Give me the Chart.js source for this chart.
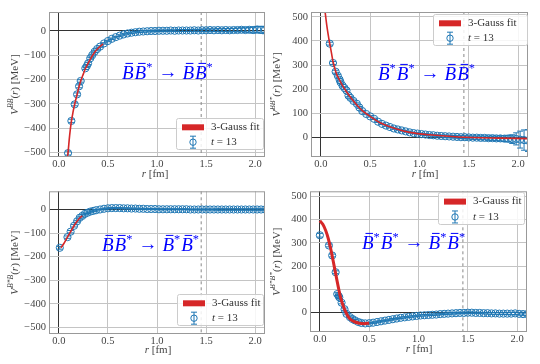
<!DOCTYPE html>
<html>
<head>
<meta charset="utf-8">
<script src="https://cdn.jsdelivr.net/npm/chart.js@4.4.1/dist/chart.umd.min.js"></script>
<style>
  body { margin: 0; background: #fff; }
  #wrap { position: relative; width: 540px; height: 364px; }
  canvas { position: absolute; }
</style>
</head>
<body>
<div id="wrap">
  <canvas id="c1" width="270" height="182" style="left:0;top:0"></canvas>
  <canvas id="c2" width="270" height="182" style="left:270px;top:0"></canvas>
  <canvas id="c3" width="270" height="182" style="left:0;top:182px"></canvas>
  <canvas id="c4" width="270" height="182" style="left:270px;top:182px"></canvas>
</div>
<script>
// ---- data ----
const xTicks = [0, 0.5, 1.0, 1.5, 2.0]
const yTicksNeg = [-500, -400, -300, -200, -100, 0]
const yTicksPos = [0, 100, 200, 300, 400, 500]
const cutoff = 1.45

// r grid of the dense lattice points (shared by all panels)
const rDense = [0.42, 0.46, 0.50, 0.54, 0.58, 0.62, 0.66, 0.70, 0.74, 0.78,
  0.82, 0.86, 0.90, 0.94, 0.98, 1.02, 1.06, 1.10, 1.14, 1.18,
  1.22, 1.26, 1.30, 1.34, 1.38, 1.42, 1.46, 1.50, 1.54, 1.58,
  1.62, 1.66, 1.70, 1.74, 1.78, 1.82, 1.86, 1.90, 1.94, 1.98,
  2.02, 2.06, 2.10]

// panel 1: BB* -> BB*
const r1Near = [0.094, 0.128, 0.162, 0.186, 0.206, 0.223, 0.27, 0.285, 0.298, 0.32, 0.34, 0.365, 0.39]
const v1Near = [-502, -370, -302, -261, -228, -206, -154, -145, -134, -113, -100, -86, -75]
const e1Near = [8, 7, 6, 6, 6, 5, 5, 5, 5, 4, 4, 4, 4]
const v1Dense = [-65, -52, -42, -33, -26, -20, -15, -11, -8, -6,
  -4, -3, -2, -1, -1, 0, 0, 0, 1, 0,
  1, 1, 1, 1, 2, 1, 2, 2, 3, 2,
  3, 2, 3, 2, 3, 3, 4, 3, 4, 3,
  5, 4, 3]
const e1Dense = [3, 3, 3, 3, 3, 3, 3, 3, 3, 3,
  3, 3, 3, 3, 3, 3, 3, 3, 3, 3,
  4, 4, 4, 4, 4, 4, 5, 5, 5, 5,
  6, 6, 6, 7, 7, 8, 8, 9, 10, 12,
  13, 14, 15]
const fit1R = [0.085, 0.094, 0.11, 0.128, 0.145, 0.162, 0.186, 0.206, 0.223, 0.25, 0.27, 0.30, 0.33, 0.36, 0.40, 0.45]
const fit1V = [-525, -500, -430, -372, -333, -300, -262, -229, -206, -177, -156, -132, -110, -91, -72, -54]

// panel 2: B*B* -> BB*
const r2Near = [0.09, 0.123, 0.15, 0.172, 0.19, 0.2, 0.22, 0.24, 0.26, 0.28, 0.30, 0.33, 0.365, 0.39]
const v2Near = [389, 309, 273, 256, 240, 229, 215, 205, 195, 174, 165, 152, 140, 125]
const e2Near = [6, 6, 6, 5, 5, 5, 5, 5, 5, 5, 4, 4, 4, 4]
const v2Dense = [110, 98, 88, 78, 66, 57, 50, 44, 38, 34,
  30, 26, 22, 19, 17, 15, 13, 11, 10, 8,
  7, 6, 5, 4, 3, 2, 2, 1, 0, 0,
  -1, -1, -2, -2, -3, -3, -4, -4, -6, -5,
  -8, -10, -12]
const e2Dense = [3, 3, 3, 3, 3, 3, 3, 3, 3, 3,
  3, 3, 3, 3, 3, 4, 4, 4, 4, 4,
  4, 5, 5, 5, 5, 6, 6, 6, 7, 7,
  8, 8, 9, 9, 10, 11, 12, 14, 18, 25,
  35, 42, 45]
const fit2R = [0.04, 0.06, 0.08, 0.09, 0.11, 0.123, 0.14, 0.16, 0.19, 0.22, 0.26, 0.30, 0.35, 0.42, 0.5, 0.6, 0.75, 0.9, 1.1, 1.4, 1.8, 2.1]
const fit2V = [530, 465, 412, 389, 345, 315, 288, 262, 238, 215, 190, 167, 142, 112, 88, 62, 38, 22, 12, 3, -2, -4]

// panel 3: BB* -> B*B*
const r3Near = [0.01, 0.088, 0.12, 0.155, 0.186, 0.213, 0.24, 0.264, 0.29, 0.32, 0.35, 0.38]
const v3Near = [-162, -117, -94, -69, -50, -35, -27, -19, -14, -9, -6, -3]
const e3Near = [6, 5, 5, 5, 4, 4, 4, 3, 3, 3, 3, 3]
const v3Dense = [0, 3, 5, 6, 6, 6, 5, 5, 4, 4,
  3, 3, 2, 2, 2, 1, 1, 1, 1, 1,
  1, 1, 1, 0, 0, 0, 0, 0, 0, 0,
  0, 0, 0, 0, 0, 0, 0, 0, 0, 0,
  0, 0, 0]
const e3Dense = [2, 2, 2, 2, 2, 2, 2, 2, 2, 2,
  2, 2, 2, 2, 2, 2, 2, 2, 2, 2,
  2, 2, 2, 2, 2, 2, 2, 2, 2, 2,
  3, 3, 3, 3, 3, 3, 3, 3, 3, 3,
  3, 3, 3]
const fit3R = [0.02, 0.05, 0.088, 0.12, 0.155, 0.186, 0.213, 0.24]
const fit3V = [-162, -145, -117, -94, -69, -50, -36, -27]

// panel 4: B*B* -> B*B*
const r4Near = [0.0, 0.092, 0.125, 0.16, 0.176, 0.19, 0.197, 0.22, 0.25, 0.27, 0.305, 0.33, 0.356, 0.39]
const v4Near = [333, 289, 246, 174, 80, 72, 66, 43, 15, -5, -19, -27, -33, -40]
const e4Near = [8, 6, 6, 6, 6, 5, 5, 5, 5, 4, 4, 4, 4, 4]
const v4Dense = [-44, -46, -45, -43, -40, -37, -34, -31, -28, -25,
  -22, -20, -18, -16, -14, -12, -11, -10, -9, -8,
  -6, -5, -4, -3, -2, -1, -1, 0, 0, -1,
  -1, -2, -2, -3, -3, -4, -4, -4, -4, -3,
  -5, -6, -6]
const e4Dense = [3, 3, 3, 3, 3, 3, 3, 3, 3, 3,
  3, 3, 3, 3, 3, 3, 3, 3, 3, 3,
  3, 3, 3, 3, 3, 3, 3, 3, 3, 3,
  3, 3, 4, 4, 4, 4, 4, 4, 5, 5,
  5, 5, 5]
const fit4R = [0.0, 0.03, 0.06, 0.085, 0.11, 0.135, 0.16, 0.186, 0.21, 0.237, 0.26, 0.29, 0.32, 0.356, 0.40, 0.45, 0.5]
const fit4V = [395, 380, 352, 319, 275, 222, 168, 112, 65, 29, 5, -19, -32, -40, -45, -47, -45]

const fitLabel = '3-Gauss fit'
const dataLabel = 't = 13'

// ---- drawing helpers ----
const SERIF = '"Liberation Serif", "DejaVu Serif", serif'
const BLUE = '#1f77b4'
const RED = '#d62728'

function font(size, italic) {
  return (italic ? 'italic ' : '') + size + 'px ' + SERIF
}

// runs: [text, style] with style 'n' normal, 'i' italic, 's' superscript
function richWidth(ctx, runs, size) {
  let w = 0
  runs.forEach(([t, s]) => {
    ctx.font = s === 's' ? font(size * 0.7, true) : font(size, s === 'i')
    w += ctx.measureText(t).width
  })
  return w
}

function drawRich(ctx, runs, x, y, size, color) {
  ctx.fillStyle = color
  ctx.textBaseline = 'middle'
  ctx.textAlign = 'left'
  runs.forEach(([t, s]) => {
    ctx.font = s === 's' ? font(size * 0.7, true) : font(size, s === 'i')
    ctx.fillText(t, x, s === 's' ? y - size * 0.38 : y)
    x += ctx.measureText(t).width
  })
}

// channel text like "B B* > B B*" with overbars
function drawChannel(ctx, text, x, y, size) {
  ctx.fillStyle = 'blue'
  ctx.strokeStyle = 'blue'
  ctx.textBaseline = 'alphabetic'
  ctx.textAlign = 'left'
  text.split(' ').forEach(tok => {
    if (tok === '>') {
      ctx.font = size + 'px ' + SERIF
      x += 5
      ctx.fillText('\u2192', x, y - 1)
      x += ctx.measureText('\u2192').width + 5
      return
    }
    ctx.font = font(size, true)
    const w = ctx.measureText('B').width
    ctx.fillText('B', x, y)
    ctx.lineWidth = 1
    ctx.beginPath()
    ctx.moveTo(x + w * 0.3, y - size * 0.82)
    ctx.lineTo(x + w * 0.95, y - size * 0.82)
    ctx.stroke()
    x += w
    if (tok.endsWith('*')) {
      ctx.font = (size * 0.65) + 'px ' + SERIF
      ctx.fillText('*', x, y - size * 0.42)
      x += ctx.measureText('*').width
    }
    x += 1
  })
}

const decoPlugin = {
  id: 'deco',
  beforeDatasetsDraw(chart, args, o) {
    const ctx = chart.ctx, a = chart.chartArea
    const px = chart.scales.x.getPixelForValue(cutoff)
    ctx.save()
    ctx.strokeStyle = '#888'
    ctx.lineWidth = 1
    ctx.setLineDash([3, 3])
    ctx.beginPath()
    ctx.moveTo(px, a.top)
    ctx.lineTo(px, a.bottom)
    ctx.stroke()
    ctx.restore()
  },
  afterDatasetDraw(chart, args) {
    if (args.index !== 1) return
    const ctx = chart.ctx, a = chart.chartArea
    const xs = chart.scales.x, ys = chart.scales.y
    ctx.save()
    ctx.beginPath()
    ctx.rect(a.left, a.top, a.right - a.left, a.bottom - a.top)
    ctx.clip()
    ctx.strokeStyle = BLUE
    ctx.lineWidth = 1
    chart.data.datasets[1].data.forEach(p => {
      const px = xs.getPixelForValue(p.x)
      const y1 = ys.getPixelForValue(p.y - p.e)
      const y2 = ys.getPixelForValue(p.y + p.e)
      ctx.beginPath()
      ctx.moveTo(px, y1); ctx.lineTo(px, y2)
      ctx.moveTo(px - 3, y1); ctx.lineTo(px + 3, y1)
      ctx.moveTo(px - 3, y2); ctx.lineTo(px + 3, y2)
      ctx.stroke()
    })
    ctx.restore()
  },
  afterDraw(chart, args, o) {
    const ctx = chart.ctx, a = chart.chartArea
    ctx.save()
    // frame
    ctx.strokeStyle = '#999'
    ctx.lineWidth = 1
    ctx.strokeRect(a.left + 0.5, a.top + 0.5, a.right - a.left - 1, a.bottom - a.top - 1)

    // channel annotation
    drawChannel(ctx, o.channel, o.chX, o.chY, 19)

    // legend
    const L = o.legend
    ctx.fillStyle = 'rgba(255,255,255,0.85)'
    ctx.strokeStyle = '#ccc'
    ctx.beginPath()
    ctx.roundRect(L.x + 0.5, L.y + 0.5, L.w, L.h, 2)
    ctx.fill()
    ctx.stroke()
    const y1 = L.y + L.h * 0.3, y2 = L.y + L.h * 0.78
    ctx.fillStyle = RED
    ctx.fillRect(L.x + 6, y1 - 3, 22, 6)
    ctx.strokeStyle = BLUE
    const mx = L.x + 17
    ctx.beginPath()
    ctx.arc(mx, y2, 3.2, 0, Math.PI * 2)
    ctx.moveTo(mx, y2 - 6); ctx.lineTo(mx, y2 + 6)
    ctx.moveTo(mx - 3, y2 - 6); ctx.lineTo(mx + 3, y2 - 6)
    ctx.moveTo(mx - 3, y2 + 6); ctx.lineTo(mx + 3, y2 + 6)
    ctx.stroke()
    drawRich(ctx, [[fitLabel, 'n']], L.x + 35, y1, 11, '#333')
    const parts = dataLabel.split(' ')
    drawRich(ctx, [[parts[0], 'i'], [' ' + parts.slice(1).join(' '), 'n']], L.x + 35, y2, 11, '#333')

    // x axis title
    const xt = [['r', 'i'], [' [fm]', 'n']]
    drawRich(ctx, xt, o.xtX - richWidth(ctx, xt, 11) / 2, o.xtY, 11, '#444')

    // y axis title (rotated)
    const yt = [['V', 'i'], [o.sup, 's'], ['(', 'n'], ['r', 'i'], [') [MeV]', 'n']]
    ctx.translate(o.ytX, (a.top + a.bottom) / 2)
    ctx.rotate(-Math.PI / 2)
    drawRich(ctx, yt, -richWidth(ctx, yt, 11) / 2, 0, 11, '#444')
    ctx.restore()
  }
}

function pts(r, v, e) {
  return r.map((x, i) => ({ x: x, y: v[i], e: e[i] }))
}

function fmtY(v) {
  return v < 0 ? '\u2212' + Math.abs(v) : String(v)
}

function makePanel(p) {
  const data = pts(p.rNear, p.vNear, p.eNear).concat(pts(rDense, p.vDense, p.eDense))
  const fit = p.fitR.map((x, i) => ({ x: x, y: p.fitV[i] }))
  const gridColor = ctx => ctx.tick && ctx.tick.value === 0 ? '#333' : '#c4c4c4'
  new Chart(document.getElementById(p.id), {
    type: 'scatter',
    data: {
      datasets: [
        {
          label: fitLabel,
          data: fit,
          showLine: true,
          borderColor: RED,
          borderWidth: p.fitWidth,
          pointRadius: 0,
          tension: 0.35,
          order: 0
        },
        {
          label: dataLabel,
          data: data,
          borderColor: BLUE,
          backgroundColor: 'rgba(0,0,0,0)',
          borderWidth: 1,
          pointRadius: 3.6,
          order: 1
        }
      ]
    },
    options: {
      responsive: false,
      animation: false,
      events: [],
      layout: { padding: p.pad },
      plugins: {
        legend: { display: false },
        tooltip: { enabled: false },
        deco: p.deco
      },
      scales: {
        x: {
          type: 'linear',
          min: -0.1,
          max: 2.1,
          afterBuildTicks: s => { s.ticks = xTicks.map(v => ({ value: v })) },
          afterFit: s => { s.height = 20 },
          ticks: {
            callback: v => v.toFixed(1),
            font: { family: SERIF, size: 10.5 },
            color: '#444',
            padding: 1,
            maxRotation: 0
          },
          grid: { color: gridColor, drawTicks: false },
          border: { display: false }
        },
        y: {
          type: 'linear',
          min: p.yMin,
          max: p.yMax,
          afterBuildTicks: s => { s.ticks = p.yTicks.map(v => ({ value: v })) },
          afterFit: s => { s.width = p.yW },
          ticks: {
            callback: v => fmtY(v),
            font: { family: SERIF, size: 10.5 },
            color: '#444',
            padding: 3
          },
          grid: { color: gridColor, drawTicks: false },
          border: { display: false }
        }
      }
    },
    plugins: [decoPlugin]
  })
}

makePanel({
  id: 'c1', rNear: r1Near, vNear: v1Near, eNear: e1Near, vDense: v1Dense, eDense: e1Dense,
  fitR: fit1R, fitV: fit1V, fitWidth: 1.6, yMin: -518, yMax: 77, yTicks: yTicksNeg,
  pad: { left: 0, right: 3, top: 12, bottom: 5 }, yW: 49,
  deco: { channel: 'B B* > B B*', chX: 122, chY: 79, sup: 'BB',
    legend: { x: 176, y: 118, w: 87, h: 31 }, xtX: 155, xtY: 174, ytX: 15 }
})
makePanel({
  id: 'c2', rNear: r2Near, vNear: v2Near, eNear: e2Near, vDense: v2Dense, eDense: e2Dense,
  fitR: fit2R, fitV: fit2V, fitWidth: 1.6, yMin: -80, yMax: 520, yTicks: yTicksPos,
  pad: { left: 0, right: 12, top: 12, bottom: 5 }, yW: 41,
  deco: { channel: 'B* B* > B B*', chX: 108, chY: 80, sup: 'BB*',
    legend: { x: 163, y: 14, w: 94, h: 31 }, xtX: 155, xtY: 174, ytX: 7 }
})
makePanel({
  id: 'c3', rNear: r3Near, vNear: v3Near, eNear: e3Near, vDense: v3Dense, eDense: e3Dense,
  fitR: fit3R, fitV: fit3V, fitWidth: 1.6, yMin: -527, yMax: 77, yTicks: yTicksNeg,
  pad: { left: 0, right: 3, top: 4, bottom: 10 }, yW: 49,
  deco: { channel: 'B B* > B* B*', chX: 102, chY: 69, sup: 'B*B',
    legend: { x: 177, y: 112, w: 86, h: 31 }, xtX: 158, xtY: 168, ytX: 15 }
})
makePanel({
  id: 'c4', rNear: r4Near, vNear: v4Near, eNear: e4Near, vDense: v4Dense, eDense: e4Dense,
  fitR: fit4R, fitV: fit4V, fitWidth: 3, yMin: -83, yMax: 522, yTicks: yTicksPos,
  pad: { left: 0, right: 13, top: 4, bottom: 12 }, yW: 40,
  deco: { channel: 'B* B* > B* B*', chX: 92, chY: 67, sup: 'B*B*',
    legend: { x: 168, y: 10, w: 86, h: 32 }, xtX: 149, xtY: 167, ytX: 7 }
})
</script>
</body>
</html>
